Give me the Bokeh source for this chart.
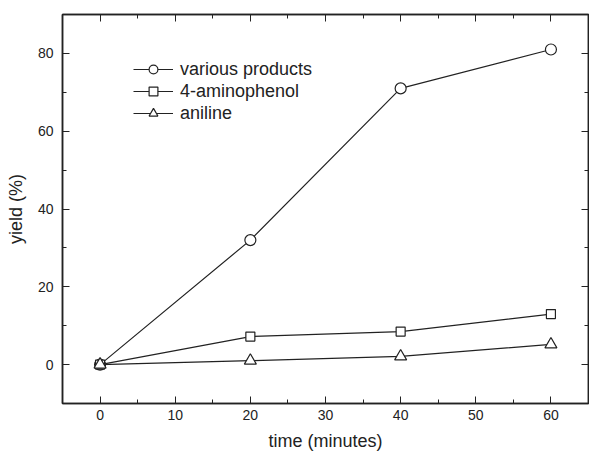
from bokeh.plotting import figure
from bokeh.models import LinearAxis, Legend, LegendItem, Range1d, FixedTicker
from bokeh.embed import file_html
from bokeh.resources import INLINE

time_min = [0, 20, 40, 60]
various_products = [0, 32, 71, 81]
aminophenol = [0, 7.2, 8.5, 13]
aniline = [0, 1.0, 2.1, 5.2]

x_ticks = [0, 10, 20, 30, 40, 50, 60]
y_ticks = [0, 20, 40, 60, 80]

FONT = "Liberation Sans"
TXT = "#222222"

p = figure(width=589, height=455, output_backend="svg", toolbar_location=None,
           x_range=Range1d(-5, 65), y_range=Range1d(-10, 90),
           min_border_left=62, min_border_right=1, min_border_top=14, min_border_bottom=52)
p.background_fill_color = "white"
p.border_fill_color = "white"
p.grid.visible = False
p.outline_line_color = "#222222"
p.outline_line_width = 1.5

def style_axis(ax, show_labels=True):
    ax.axis_line_color = "#222222"
    ax.axis_line_width = 1.5
    ax.major_tick_in = 7
    ax.major_tick_out = 0
    ax.minor_tick_in = 4
    ax.minor_tick_out = 0
    ax.major_tick_line_color = "#222222"
    ax.minor_tick_line_color = "#222222"
    ax.major_label_text_font = FONT
    ax.major_label_text_color = TXT
    ax.major_label_text_font_size = "14px"
    ax.axis_label_text_font = FONT
    ax.axis_label_text_color = TXT
    ax.axis_label_text_font_size = "18px"
    ax.axis_label_text_font_style = "normal"
    if not show_labels:
        ax.major_label_overrides = {t: "" for t in ax.ticker.ticks}
        ax.major_label_standoff = 0

p.xaxis.ticker = FixedTicker(ticks=x_ticks, minor_ticks=list(range(-5, 66, 5)))
p.yaxis.ticker = FixedTicker(ticks=y_ticks, minor_ticks=list(range(-10, 91, 10)))
style_axis(p.xaxis[0])
style_axis(p.yaxis[0])
p.xaxis.axis_label = "time (minutes)"
p.yaxis.axis_label = "yield (%)"
p.xaxis.major_label_standoff = 6
p.yaxis.major_label_standoff = 9
p.xaxis.axis_label_standoff = 8
p.yaxis.axis_label_standoff = 9

top = LinearAxis(ticker=FixedTicker(ticks=x_ticks, minor_ticks=list(range(-5, 66, 5))))
right = LinearAxis(ticker=FixedTicker(ticks=y_ticks, minor_ticks=list(range(-10, 91, 10))))
style_axis(top, False)
style_axis(right, False)
p.add_layout(top, "above")
p.add_layout(right, "right")

lc = "#222222"
l1 = p.line(time_min, various_products, line_color=lc, line_width=1.2)
s1 = p.scatter(time_min, various_products, marker="circle", size=11, fill_color="white", line_color=lc, line_width=1.2)
l2 = p.line(time_min, aminophenol, line_color=lc, line_width=1.2)
s2 = p.scatter(time_min, aminophenol, marker="square", size=9, fill_color="white", line_color=lc, line_width=1.2)
l3 = p.line(time_min, aniline, line_color=lc, line_width=1.2)
s3 = p.scatter(time_min, aniline, marker="triangle", size=12, fill_color="white", line_color=lc, line_width=1.2)

legend = Legend(items=[
    LegendItem(label="various products", renderers=[l1, s1]),
    LegendItem(label="4-aminophenol", renderers=[l2, s2]),
    LegendItem(label="aniline", renderers=[l3, s3]),
], location=(71, 279))
legend.border_line_color = None
legend.background_fill_alpha = 0
legend.glyph_width = 40
legend.glyph_height = 22
legend.label_height = 22
legend.spacing = 0
legend.padding = 2
legend.label_standoff = 7
legend.label_text_font = FONT
legend.label_text_font_size = "18px"
legend.label_text_color = TXT
p.add_layout(legend, "center")

open("out.html", "w").write(file_html(p, INLINE))
